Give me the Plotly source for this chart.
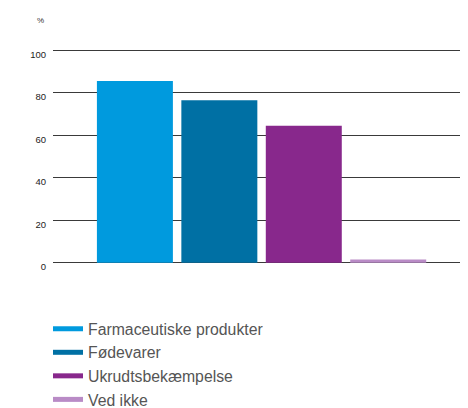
import plotly.graph_objects as go

categories = ["Farmaceutiske produkter", "Fødevarer", "Ukrudtsbekæmpelse", "Ved ikke"]
values = [85.5, 76.5, 64.5, 1.5]
colors = ["#009ADE", "#0070A4", "#88288C", "#B98BC6"]
y_ticks = [0, 20, 40, 60, 80, 100]

fig = go.Figure()
for i, (c, v, col) in enumerate(zip(categories, values, colors)):
    fig.add_trace(go.Bar(x=[i], y=[v], marker=dict(color=col, line=dict(width=0)),
                         width=0.9, showlegend=False, hoverinfo="skip"))
for c, col in zip(categories, colors):
    fig.add_trace(go.Scatter(x=[None], y=[None], mode="lines", name=c,
                             line=dict(color=col, width=5)))

fig.update_layout(
    width=468, height=408,
    margin=dict(l=53, r=8, t=47, b=142, autoexpand=False),
    plot_bgcolor="white", paper_bgcolor="white",
    barmode="overlay",
    font=dict(family="Liberation Sans, Arial, sans-serif", color="#333"),
    xaxis=dict(range=[-0.97, 3.85], showticklabels=False, showgrid=False,
               zeroline=False, showline=False, ticks=""),
    yaxis=dict(range=[-1.5, 101.5], tickvals=y_ticks, showgrid=True, gridcolor="#3a3a3a",
               gridwidth=1, zeroline=False, showline=False, ticks="",
               tickfont=dict(size=9.5, color="#222"), ticklabelstandoff=6,
               ticklabelshift=4),
    legend=dict(x=-0.0123, y=-0.21, xanchor="left", yanchor="top",
                font=dict(size=15.8, color="#555"), tracegroupgap=0,
                itemwidth=30, bgcolor="rgba(0,0,0,0)"),
    annotations=[dict(text="%", x=-0.016, y=1.123, xref="paper", yref="paper",
                      showarrow=False, font=dict(size=8, color="#333"),
                      xanchor="right", yanchor="middle")],
)
fig.write_html("out.html", config={"displayModeBar": False},
               post_script="document.body.style.margin='0';")
